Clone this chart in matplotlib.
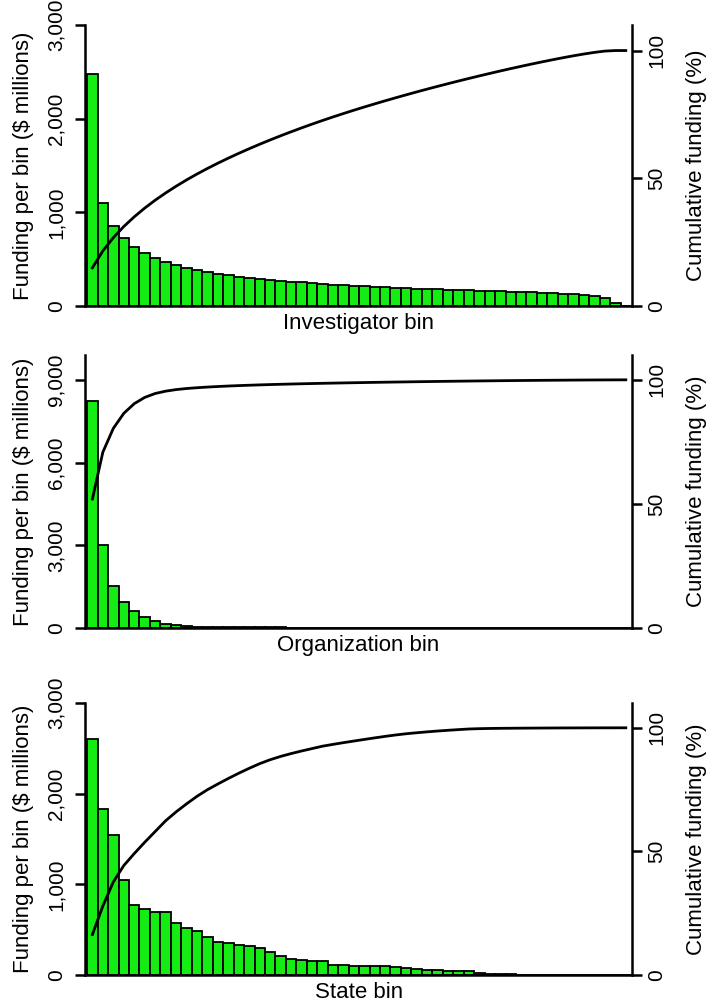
import numpy as np
import matplotlib.pyplot as plt
from matplotlib.ticker import FuncFormatter

plt.rcParams['font.family'] = ['Liberation Sans', 'DejaVu Sans']

# funding per bin ($ millions), bins sorted from largest to smallest
investigator_funding = [2480, 1100, 854, 725, 630, 566, 512, 470, 437, 409, 384,
                        362, 343, 327, 313, 300, 289, 279, 269, 260, 252, 244, 236,
                        229, 222, 216, 210, 204, 199, 195, 191, 187, 183, 179, 175,
                        172, 168, 165, 161, 158, 154, 150, 146, 142, 137, 132, 125,
                        116, 104, 85, 35, 0]
organization_funding = [8250, 3000, 1520, 960, 620, 400, 250, 150, 100, 70, 50, 42,
                        36, 31, 27, 24, 22, 20, 18, 17, 16, 15, 14, 13, 13, 12, 12,
                        11, 11, 10, 10, 10, 9, 9, 9, 8, 8, 8, 7, 7, 7, 6, 6, 6, 5,
                        5, 5, 4, 4, 3, 3, 2]
state_funding = [2600, 1830, 1545, 1050, 770, 725, 690, 690, 570, 515, 485, 425,
                 368, 355, 336, 316, 297, 252, 212, 182, 166, 154, 154, 116, 110,
                 105, 103, 100, 97, 89, 79, 63, 58, 53, 47, 44, 40, 21, 13, 8, 6, 5,
                 4, 4, 3, 3, 2, 2, 2, 1, 1, 1]

xlabels = ["Investigator bin", "Organization bin", "State bin"]
left_ticks = [[0, 1000, 2000, 3000], [0, 3000, 6000, 9000], [0, 1000, 2000, 3000]]
left_max = [3000, 9900, 3000]
pct_ticks = [0, 50, 100]

fig = plt.figure(figsize=(7.09, 10.08), dpi=100)
# [left, bottom, width, height] in figure fractions
boxes = [[0.120, 0.6964, 0.7715, 0.2788],
         [0.120, 0.3770, 0.7715, 0.2708],
         [0.120, 0.0327, 0.7715, 0.2698]]

comma = FuncFormatter(lambda v, p: "{:,}".format(int(v)))

for i, data in enumerate([investigator_funding, organization_funding, state_funding]):
    vals = np.array(data, dtype=float)
    x = np.arange(1, len(vals) + 1)
    cum = np.cumsum(vals) / vals.sum() * 100

    ax = fig.add_axes(boxes[i])
    ax.bar(x, vals, width=1.0, color='#14ec14', edgecolor='black', linewidth=1.3)
    ax.set_xlim(0.3, len(vals) + 0.6)
    ax.set_ylim(0, left_max[i])
    ax.set_yticks(left_ticks[i])
    ax.yaxis.set_major_formatter(comma)
    ax.set_xticks([])
    ax.spines['top'].set_visible(False)
    ax.spines['right'].set_visible(False)
    for s in ['left', 'bottom']:
        ax.spines[s].set_linewidth(1.8)
    ax.tick_params(axis='y', direction='out', length=7, width=1.8, labelsize=15, pad=7)
    for lab in ax.get_yticklabels():
        lab.set_rotation(90)
        lab.set_va('center')
    ax.set_ylabel("Funding per bin (\\$ millions)", fontsize=16, labelpad=9)
    ax.set_xlabel(xlabels[i], fontsize=16, labelpad=5)

    ax2 = ax.twinx()
    ax2.plot(x, cum, color='black', linewidth=2.0)
    ax2.set_ylim(0, 110)
    ax2.set_yticks(pct_ticks)
    ax2.spines['top'].set_visible(False)
    ax2.spines['left'].set_visible(False)
    ax2.spines['bottom'].set_visible(False)
    ax2.spines['right'].set_linewidth(1.8)
    ax2.tick_params(axis='y', direction='out', length=7, width=1.8, labelsize=15, pad=4)
    for lab in ax2.get_yticklabels():
        lab.set_rotation(90)
        lab.set_va('center')
    ax2.set_ylabel("Cumulative funding (%)", fontsize=16, labelpad=14)

fig.savefig("out.png", dpi=100)
